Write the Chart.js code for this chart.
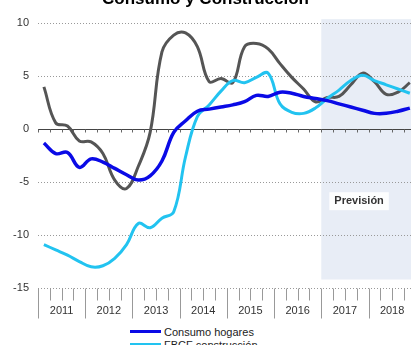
<!DOCTYPE html>
<html>
<head>
<meta charset="utf-8">
<script src="https://cdn.jsdelivr.net/npm/chart.js@4.4.1/dist/chart.umd.min.js"></script>
<style>
  html, body { margin: 0; padding: 0; background: #fff; }
  #wrap { position: relative; width: 411px; height: 345px; overflow: hidden; font-family: "Liberation Sans", Arial, sans-serif; }
  #box { position: absolute; left: 0; top: -11px; width: 411px; height: 330px; }
  #legend { position: absolute; left: 130px; top: 325px; font-size: 11px; color: #222; }
  .item { display: flex; align-items: center; height: 13px; white-space: nowrap; }
  .swatch { width: 31px; height: 3px; margin-right: 3px; }
</style>
</head>
<body>
<div id="wrap">
  <div id="box"><canvas id="chart" width="411" height="330"></canvas></div>
  <div id="legend"></div>
</div>
<script>
const years = [2011, 2012, 2013, 2014, 2015, 2016, 2017, 2018];
const quarterMid = [0.125, 0.375, 0.625, 0.875];

const consumoHogares = [
  -1.3, -2.3, -2.2, -3.6,
  -2.8, -3.1, -3.7, -4.3,
  -4.8, -4.4, -3.0, -0.3,
  0.8, 1.7, 1.9, 2.1,
  2.3, 2.6, 3.2, 3.1,
  3.5, 3.4, 3.1, 2.9,
  2.7, 2.4, 2.1, 1.8,
  1.5, 1.5, 1.7, 2.0
];
const fbcfConstruccion = [
  -10.9, -11.4, -11.9, -12.5,
  -13.0, -12.9, -12.2, -10.9,
  -8.9, -9.3, -8.4, -7.8,
  -2.6, 1.2, 2.3, 3.6,
  4.6, 4.4, 4.9, 5.3,
  2.4, 1.6, 1.5, 2.0,
  2.9, 3.7, 4.6, 5.1,
  4.6, 4.2, 3.8, 3.4
];
const viviendas = [
  4.0, 0.6, 0.3, -1.1,
  -1.2, -2.3, -4.8, -5.6,
  -3.5, -0.3, 7.3, 8.9,
  9.1, 7.8, 4.5, 4.8,
  4.4, 7.8, 8.1, 7.6,
  6.2, 4.9, 3.8, 2.6,
  3.0, 3.1, 4.2, 5.3,
  4.5, 3.3, 3.5, 4.4
];

const yTicks = [10, 5, 0, -5, -10, -15];
const forecastStart = 2017;
const forecastLabel = 'Previsión';
const titleText = 'Consumo y Construcción';

const periods = years.flatMap(y => quarterMid.map(q => y + q));
const toPoints = vals => vals.map((v, i) => ({ x: periods[i], y: v }));

const series = [
  { label: 'Consumo hogares', data: consumoHogares, color: '#0a0ae6', width: 3.5 },
  { label: 'FBCF construcción', data: fbcfConstruccion, color: '#22c3f0', width: 3 },
  { label: 'Compraventa viviendas', data: viviendas, color: '#555555', width: 3 }
];

// legend (the original is cropped at the bottom)
const legendEl = document.getElementById('legend');
series.forEach(s => {
  const row = document.createElement('div');
  row.className = 'item';
  const sw = document.createElement('span');
  sw.className = 'swatch';
  sw.style.background = s.color;
  row.appendChild(sw);
  row.appendChild(document.createTextNode(s.label));
  legendEl.appendChild(row);
});

const extras = {
  id: 'extras',
  beforeDraw(chart) {
    const { ctx, chartArea, scales: { x, y } } = chart;
    const x0 = x.getPixelForValue(forecastStart);
    const top = y.getPixelForValue(10.4);
    const bot = y.getPixelForValue(-14.2);
    ctx.save();
    ctx.fillStyle = '#e8edf6';
    ctx.fillRect(x0, top, chartArea.right - x0, bot - top);
    ctx.restore();
  },
  beforeDatasetsDraw(chart) {
    const { ctx, chartArea, scales: { x, y } } = chart;
    const y0 = Math.round(y.getPixelForValue(0)) + 0.5;
    const yb = Math.round(y.getPixelForValue(-15)) + 0.5;
    ctx.save();
    ctx.strokeStyle = '#444';
    ctx.lineWidth = 1.2;
    ctx.beginPath();
    ctx.moveTo(chartArea.left, y0);
    ctx.lineTo(chartArea.right, y0);
    ctx.stroke();
    ctx.lineWidth = 1;
    for (let t = years[0]; t <= x.max; t += 0.25) {
      const px = Math.round(x.getPixelForValue(t)) + 0.5;
      const isYear = Math.abs(t - Math.round(t)) < 1e-6;
      ctx.strokeStyle = '#666';
      ctx.beginPath();
      ctx.moveTo(px, y0);
      ctx.lineTo(px, y0 + 3);
      ctx.stroke();
      ctx.strokeStyle = '#999';
      ctx.beginPath();
      ctx.moveTo(px, yb);
      ctx.lineTo(px, yb + (isYear ? 30 : 12));
      ctx.stroke();
    }
    ctx.restore();
  },
  afterDatasetsDraw(chart) {
    const { ctx, scales: { x, y } } = chart;
    const cx = x.getPixelForValue(2017.8);
    const cy = y.getPixelForValue(-6.8);
    ctx.save();
    ctx.font = 'bold 11px "Liberation Sans", Arial, sans-serif';
    const w = ctx.measureText(forecastLabel).width;
    ctx.fillStyle = 'rgba(255,255,255,0.9)';
    ctx.fillRect(cx - w / 2 - 5, cy - 9, w + 10, 18);
    ctx.fillStyle = '#333';
    ctx.textAlign = 'center';
    ctx.textBaseline = 'middle';
    ctx.fillText(forecastLabel, cx, cy);
    ctx.restore();
  }
};

new Chart(document.getElementById('chart').getContext('2d'), {
  type: 'line',
  data: {
    datasets: series.map(s => ({
      label: s.label,
      data: toPoints(s.data),
      borderColor: s.color,
      backgroundColor: s.color,
      borderWidth: s.width,
      pointRadius: 0,
      tension: 0.4,
      fill: false
    }))
  },
  options: {
    responsive: false,
    animation: false,
    layout: { padding: 0 },
    plugins: {
      legend: { display: false },
      tooltip: { enabled: false },
      title: {
        display: true,
        text: titleText,
        color: '#000',
        font: { size: 17, weight: 'bold', family: '"Liberation Sans", Arial, sans-serif' },
        padding: { top: 0, bottom: 14 }
      }
    },
    scales: {
      x: {
        type: 'linear',
        min: years[0],
        max: 2018.9,
        afterBuildTicks: scale => {
          scale.ticks = years.map(y => ({ value: y + 0.5 }));
        },
        afterFit: scale => {
          scale.height = 31;
          scale.paddingLeft = 0;
          scale.paddingRight = 0;
        },
        grid: { display: false, drawTicks: false },
        border: { display: false },
        ticks: {
          padding: 16,
          color: '#333',
          font: { size: 11, family: '"Liberation Sans", Arial, sans-serif' },
          callback: v => String(Math.floor(v)),
          maxRotation: 0,
          autoSkip: false
        }
      },
      y: {
        min: -15,
        max: 10,
        afterBuildTicks: scale => {
          scale.ticks = yTicks.map(v => ({ value: v }));
        },
        afterFit: scale => { scale.width = 38; },
        grid: { color: '#999', lineWidth: 1, drawTicks: false },
        border: { display: false, dash: [1, 2] },
        ticks: {
          padding: 9,
          color: '#333',
          font: { size: 11, family: '"Liberation Sans", Arial, sans-serif' }
        }
      }
    }
  },
  plugins: [extras]
});
</script>
</body>
</html>
